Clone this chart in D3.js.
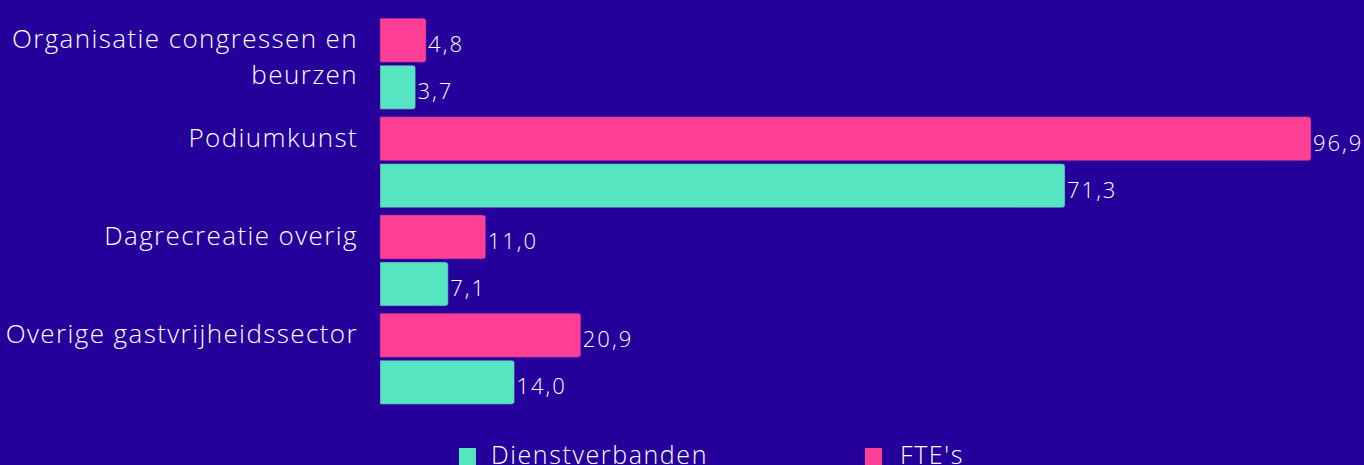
<!DOCTYPE html>
<html>
<head>
<meta charset="utf-8">
<script src="https://cdn.jsdelivr.net/npm/d3@7"></script>
<style>
  html, body { margin: 0; padding: 0; background: #25009a; overflow: hidden; }
  svg { display: block; font-family: "Open Sans", sans-serif; font-weight: 300; }
</style>
</head>
<body>
<div id="chart"></div>
<script>
// data
const categories = [
  "Organisatie congressen en beurzen",
  "Podiumkunst",
  "Dagrecreatie overig",
  "Overige gastvrijheidssector"
];
const seriesNames = ["FTE's", "Dienstverbanden"];
const fte = [4.8, 96.9, 11.0, 20.9];
const dienstverbanden = [3.7, 71.3, 7.1, 14.0];
const legendOrder = ["Dienstverbanden", "FTE's"];

const colors = { "FTE's": "#ff3e96", "Dienstverbanden": "#55e6c1" };

const width = 1364, height = 465;
const svg = d3.select("#chart").append("svg")
  .attr("width", width)
  .attr("height", height);

svg.append("rect").attr("width", width).attr("height", height).attr("fill", "#25009a");

const rows = categories.map((c, i) => ({
  cat: c,
  values: [
    { key: "FTE's", value: fte[i] },
    { key: "Dienstverbanden", value: dienstverbanden[i] }
  ]
}));

const x = d3.scaleLinear().domain([0, 96.9]).range([380, 1311]);

const y = d3.scaleBand()
  .domain(categories)
  .range([18.3, 404.3])
  .paddingInner(0.0746)
  .paddingOuter(0);

const ySub = d3.scaleBand()
  .domain(seriesNames)
  .range([0, y.bandwidth()])
  .paddingInner(0.064);

// bar with rounded right corners only
function barPath(x0, y0, w, h, r) {
  r = Math.min(r, w, h / 2);
  return `M${x0},${y0}H${x0 + w - r}Q${x0 + w},${y0} ${x0 + w},${y0 + r}` +
    `V${y0 + h - r}Q${x0 + w},${y0 + h} ${x0 + w - r},${y0 + h}H${x0}Z`;
}

const fmt = v => d3.format(".1f")(v).replace(".", ",");

const groups = svg.selectAll("g.group")
  .data(rows)
  .enter()
  .append("g")
  .attr("class", "group")
  .attr("transform", d => `translate(0,${y(d.cat)})`);

groups.selectAll("path")
  .data(d => d.values)
  .enter()
  .append("path")
  .attr("d", d => barPath(x(0), ySub(d.key), x(d.value) - x(0), ySub.bandwidth(), 3))
  .attr("fill", d => colors[d.key])
  .attr("stroke", "#5a1aa0")
  .attr("stroke-opacity", 0.5)
  .attr("stroke-width", 1);

groups.selectAll("text.val")
  .data(d => d.values)
  .enter()
  .append("text")
  .attr("class", "val")
  .attr("x", d => x(d.value) + 2)
  .attr("y", d => ySub(d.key) + ySub.bandwidth() / 2 + 12)
  .attr("fill", "#ffffff")
  .style("font-size", "22px")
  .style("letter-spacing", "2px")
  .text(d => fmt(d.value));

// category labels, wrapped like the original
const labelSize = 26;
const labelSpacing = "1.4px";

function wrapWords(text, maxW) {
  const probe = svg.append("text")
    .style("font-size", labelSize + "px")
    .style("letter-spacing", labelSpacing);
  const words = text.split(" ");
  const lines = [];
  let line = [];
  words.forEach(w => {
    line.push(w);
    probe.text(line.join(" "));
    if (probe.node().getComputedTextLength() > maxW && line.length > 1) {
      line.pop();
      lines.push(line.join(" "));
      line = [w];
    }
  });
  lines.push(line.join(" "));
  probe.remove();
  return lines;
}

groups.each(function(d) {
  const lines = wrapWords(d.cat, 355);
  const t = d3.select(this).append("text")
    .attr("text-anchor", "end")
    .attr("fill", "#ffffff")
    .style("font-size", labelSize + "px")
    .style("letter-spacing", labelSpacing);
  lines.forEach((ln, i) => {
    t.append("tspan")
      .attr("x", 358)
      .attr("y", ySub("FTE's") + ySub.bandwidth() / 2 + 8 + i * 36)
      .text(ln);
  });
});

// legend
const legendX = d3.scalePoint().domain(legendOrder).range([459, 865]);
const legend = svg.selectAll("g.legend")
  .data(legendOrder)
  .enter()
  .append("g")
  .attr("class", "legend")
  .attr("transform", d => `translate(${legendX(d)},448)`);

legend.append("rect")
  .attr("width", 17)
  .attr("height", 17)
  .attr("fill", d => colors[d]);

legend.append("text")
  .attr("x", (d, i) => i === 0 ? 32 : 35)
  .attr("y", 16)
  .attr("fill", "#ffffff")
  .style("font-size", "25px")
  .style("letter-spacing", "1.6px")
  .text(d => d);
</script>
</body>
</html>
